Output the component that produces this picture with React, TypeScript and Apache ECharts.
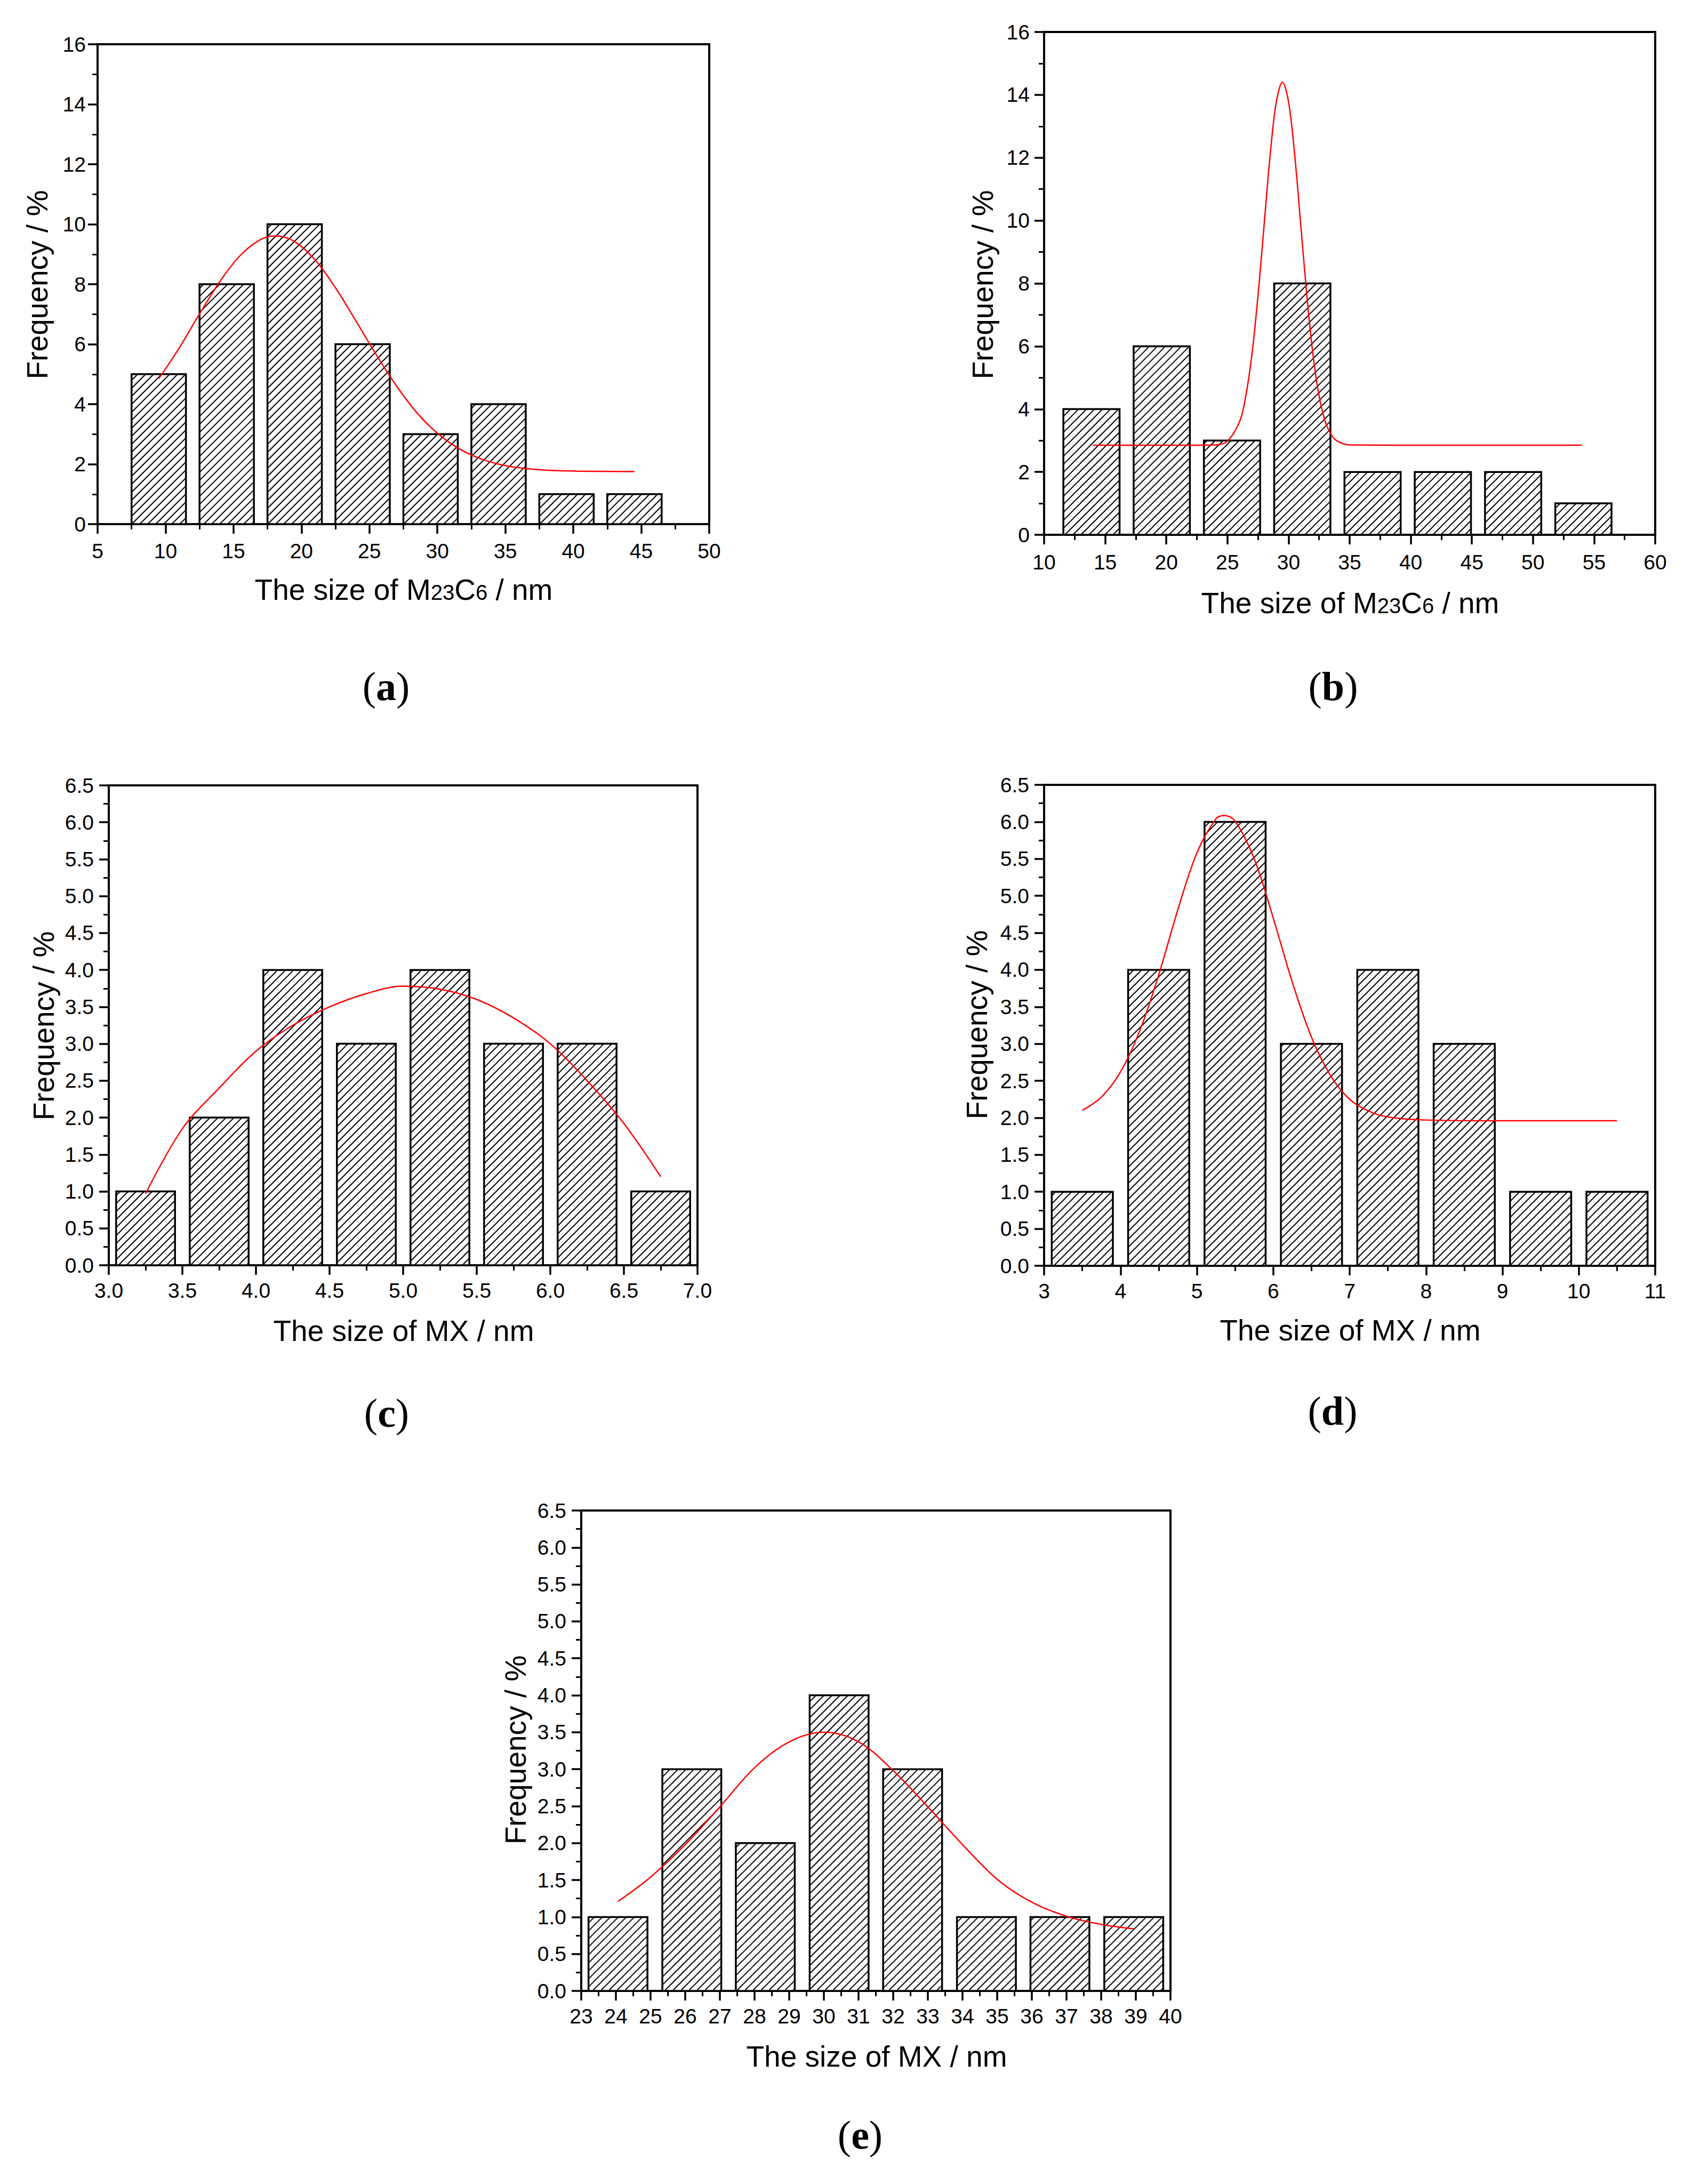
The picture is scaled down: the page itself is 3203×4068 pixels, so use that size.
import React, { useEffect, useRef } from "react";
import * as echarts from "echarts";

// ---------- data ----------
// (a) M23C6
const aBins = [9.5, 14.5, 19.5, 24.5, 29.5, 34.5, 39.5, 44.5];
const aFreq = [5, 8, 10, 6, 3, 4, 1, 1];
const aCurveX = [9.5, 11, 12.5, 14, 15.5, 17, 18.1, 19.5, 21, 22.5, 24, 25.5, 27, 28.5, 30, 31.5, 33, 34.5, 36, 38, 40, 42, 44.5];
const aCurveY = [4.85, 5.87, 7.01, 8.09, 8.96, 9.49, 9.61, 9.42, 8.81, 7.88, 6.78, 5.65, 4.6, 3.71, 3.03, 2.54, 2.21, 2.0, 1.88, 1.8, 1.77, 1.76, 1.75];

// (b) M23C6
const bBins = [13.875, 19.625, 25.375, 31.125, 36.875, 42.625, 48.375, 54.125];
const bFreq = [4, 6, 3, 8, 2, 2, 2, 1];
const bCurveX = [14, 20, 24, 25, 26, 26.5, 27, 27.5, 28, 28.5, 29, 29.5, 30, 30.5, 31, 31.5, 32, 32.5, 33, 33.5, 34, 35, 40, 54];
const bCurveY = [2.85, 2.85, 2.86, 2.98, 3.61, 4.41, 5.73, 7.6, 9.86, 12.1, 13.78, 14.4, 13.78, 12.1, 9.86, 7.6, 5.73, 4.41, 3.61, 3.18, 2.98, 2.86, 2.85, 2.85];

// (c) MX
const cBins = [3.25, 3.75, 4.25, 4.75, 5.25, 5.75, 6.25, 6.75];
const cFreq = [1, 2, 4, 3, 4, 3, 3, 1];
const cCurveX = [3.25, 3.5, 3.75, 4.0, 4.25, 4.5, 4.75, 5.0, 5.25, 5.5, 5.75, 6.0, 6.25, 6.5, 6.75];
const cCurveY = [0.97, 1.85, 2.4, 2.9, 3.25, 3.5, 3.68, 3.78, 3.74, 3.6, 3.35, 3.0, 2.5, 1.92, 1.2];

// (d) MX
const dBins = [3.5, 4.5, 5.5, 6.5, 7.5, 8.5, 9.5, 10.5];
const dFreq = [1, 4, 6, 3, 4, 3, 1, 1];
const dCurveX = [3.5, 3.75, 4.0, 4.25, 4.5, 4.75, 5.0, 5.25, 5.36, 5.5, 5.75, 6.0, 6.25, 6.5, 6.75, 7.0, 7.25, 7.5, 8.0, 9.0, 10.5];
const dCurveY = [2.1, 2.28, 2.62, 3.17, 3.93, 4.81, 5.58, 6.04, 6.085, 6.01, 5.5, 4.7, 3.83, 3.09, 2.57, 2.25, 2.09, 2.01, 1.97, 1.96, 1.96];

// (e) MX
const eBins = [24.06, 26.19, 28.31, 30.44, 32.56, 34.69, 36.81, 38.94];
const eFreq = [1, 3, 2, 4, 3, 1, 1, 1];
const eCurveX = [24.06, 25, 26, 27, 28, 29, 30, 31, 32, 33, 34, 35, 36, 37, 38, 38.94];
const eCurveY = [1.21, 1.54, 1.98, 2.49, 3.02, 3.37, 3.5, 3.37, 2.98, 2.49, 1.98, 1.51, 1.2, 1.01, 0.9, 0.84];

const xTitleM23C6 = "The size of M{s|23}C{s|6} / nm";
const xTitleMX = "The size of MX / nm";
const yTitle = "Frequency / %";
const panelLetters = ["a", "b", "c", "d", "e"];

// ---------- layout / styles ----------
const W = 3203;
const H = 4068;
const SANS = "'Liberation Sans', Arial, sans-serif";
const SERIF = "'Liberation Serif', 'Times New Roman', serif";

type Panel = {
  bins: number[];
  freq: number[];
  binW: number;
  cx: number[];
  cy: number[];
  grid: { left: number; top: number; width: number; height: number };
  x: { min: number; max: number; interval: number; dec: number };
  y: { min: number; max: number; interval: number; dec: number };
  xTitle: string;
  xTitlePos: [number, number];
  yTitlePos: [number, number];
  letterPos: [number, number];
  yLabelMargin: number;
  xLabelMargin: number;
};

const panels: Panel[] = [
  {
    bins: aBins, freq: aFreq, binW: 4, cx: aCurveX, cy: aCurveY,
    grid: { left: 183, top: 83, width: 1147, height: 900 },
    x: { min: 5, max: 50, interval: 5, dec: 0 },
    y: { min: 0, max: 16, interval: 2, dec: 0 },
    xTitle: xTitleM23C6, xTitlePos: [757, 1106], yTitlePos: [70, 534], letterPos: [724, 1287],
    yLabelMargin: 22, xLabelMargin: 31,
  },
  {
    bins: bBins, freq: bFreq, binW: 4.6, cx: bCurveX, cy: bCurveY,
    grid: { left: 1958, top: 60, width: 1146, height: 943 },
    x: { min: 10, max: 60, interval: 5, dec: 0 },
    y: { min: 0, max: 16, interval: 2, dec: 0 },
    xTitle: xTitleM23C6, xTitlePos: [2532, 1131], yTitlePos: [1843, 534], letterPos: [2500, 1287],
    yLabelMargin: 27, xLabelMargin: 32,
  },
  {
    bins: cBins, freq: cFreq, binW: 0.4, cx: cCurveX, cy: cCurveY,
    grid: { left: 204, top: 1473, width: 1104, height: 900 },
    x: { min: 3, max: 7, interval: 0.5, dec: 1 },
    y: { min: 0, max: 6.5, interval: 0.5, dec: 1 },
    xTitle: xTitleMX, xTitlePos: [757, 2496], yTitlePos: [82, 1924], letterPos: [725, 2650],
    yLabelMargin: 28, xLabelMargin: 28,
  },
  {
    bins: dBins, freq: dFreq, binW: 0.8, cx: dCurveX, cy: dCurveY,
    grid: { left: 1958, top: 1472, width: 1146, height: 902 },
    x: { min: 3, max: 11, interval: 1, dec: 0 },
    y: { min: 0, max: 6.5, interval: 0.5, dec: 1 },
    xTitle: xTitleMX, xTitlePos: [2532, 2495], yTitlePos: [1832, 1922], letterPos: [2499, 2646],
    yLabelMargin: 28, xLabelMargin: 28,
  },
  {
    bins: eBins, freq: eFreq, binW: 1.7, cx: eCurveX, cy: eCurveY,
    grid: { left: 1090, top: 2833, width: 1105, height: 901 },
    x: { min: 23, max: 40, interval: 1, dec: 0 },
    y: { min: 0, max: 6.5, interval: 0.5, dec: 1 },
    xTitle: xTitleMX, xTitlePos: [1644, 3857], yTitlePos: [967, 3282], letterPos: [1613, 4004],
    yLabelMargin: 28, xLabelMargin: 28,
  },
];

const HATCH_STEP = 15;

function makeAxis(a: { min: number; max: number; interval: number; dec: number }, margin: number, extra: any) {
  return {
    type: "value",
    min: a.min,
    max: a.max,
    interval: a.interval,
    splitLine: { show: false },
    axisLine: { show: true, onZero: false, lineStyle: { color: "#000", width: 4 } },
    axisTick: { show: true, inside: false, length: 18, lineStyle: { color: "#000", width: 3.5 } },
    minorTick: { show: true, splitNumber: 2, length: 10, lineStyle: { color: "#000", width: 3 } },
    minorSplitLine: { show: false },
    axisLabel: {
      show: true,
      margin,
      color: "#000",
      fontFamily: SANS,
      fontSize: 39,
      formatter: (v: number) => v.toFixed(a.dec),
    },
    ...extra,
  };
}

export default function App() {
  const ref = useRef<HTMLDivElement>(null);

  useEffect(() => {
    document.body.style.margin = "0";
    if (!ref.current) return;
    const chart = echarts.init(ref.current, null, { renderer: "svg", width: W, height: H });

    const grids: any[] = [];
    const xAxes: any[] = [];
    const yAxes: any[] = [];
    const series: any[] = [];
    const graphics: any[] = [];

    panels.forEach((p, i) => {
      grids.push({
        left: p.grid.left,
        top: p.grid.top,
        width: p.grid.width,
        height: p.grid.height,
        show: true,
        borderColor: "#000",
        borderWidth: 4,
        backgroundColor: "transparent",
        containLabel: false,
      });
      xAxes.push(makeAxis(p.x, p.xLabelMargin, { gridIndex: i, position: "bottom" }));
      yAxes.push(makeAxis(p.y, p.yLabelMargin, { gridIndex: i, position: "left" }));

      const half = p.binW / 2;
      series.push({
        type: "custom",
        xAxisIndex: i,
        yAxisIndex: i,
        z: 2,
        encode: { x: 0, y: 1 },
        data: p.bins.map((b, k) => [b, p.freq[k]]),
        renderItem: (_params: any, api: any) => {
          const c = api.value(0);
          const v = api.value(1);
          const tl = api.coord([c - half, v]);
          const br = api.coord([c + half, 0]);
          const x0 = tl[0], y0 = tl[1], x1 = br[0], y1 = br[1];
          const children: any[] = [
            { type: "rect", shape: { x: x0, y: y0, width: x1 - x0, height: y1 - y0 }, style: { fill: "#fff" } },
          ];
          const kStart = Math.ceil((x0 + y0) / HATCH_STEP) * HATCH_STEP;
          for (let k = kStart; k < x1 + y1; k += HATCH_STEP) {
            const xa = Math.max(x0, k - y1);
            const xb = Math.min(x1, k - y0);
            if (xb - xa > 0.5) {
              children.push({
                type: "line",
                shape: { x1: xa, y1: k - xa, x2: xb, y2: k - xb },
                style: { stroke: "#000", lineWidth: 2 },
              });
            }
          }
          children.push({
            type: "rect",
            shape: { x: x0, y: y0, width: x1 - x0, height: y1 - y0 },
            style: { fill: "none", stroke: "#000", lineWidth: 3.5 },
          });
          return { type: "group", children };
        },
      });

      series.push({
        type: "line",
        xAxisIndex: i,
        yAxisIndex: i,
        z: 5,
        data: p.cx.map((x, k) => [x, p.cy[k]]),
        showSymbol: false,
        symbol: "none",
        smooth: 0.35,
        lineStyle: { color: "#ff0000", width: 2.5 },
      });

      graphics.push({
        type: "text",
        x: p.xTitlePos[0],
        y: p.xTitlePos[1],
        style: {
          text: p.xTitle,
          fontFamily: SANS,
          fontSize: 55,
          fill: "#000",
          align: "center",
          verticalAlign: "middle",
          rich: {
            s: { fontFamily: SANS, fontSize: 40, fill: "#000", verticalAlign: "middle", padding: [10, 0, 0, 0] },
          },
        },
      });
      graphics.push({
        type: "text",
        x: p.yTitlePos[0],
        y: p.yTitlePos[1],
        rotation: Math.PI / 2,
        style: {
          text: yTitle,
          fontFamily: SANS,
          fontSize: 55,
          fill: "#000",
          align: "center",
          verticalAlign: "middle",
        },
      });
      graphics.push({
        type: "text",
        x: p.letterPos[0],
        y: p.letterPos[1],
        style: {
          text: "({b|" + panelLetters[i] + "})",
          fontFamily: SERIF,
          fontSize: 76,
          fill: "#000",
          align: "center",
          verticalAlign: "middle",
          rich: {
            b: { fontFamily: SERIF, fontSize: 76, fontWeight: "bold", fill: "#000" },
          },
        },
      });
    });

    chart.setOption({
      animation: false,
      backgroundColor: "#fff",
      grid: grids,
      xAxis: xAxes,
      yAxis: yAxes,
      series,
      graphic: graphics,
    });

    return () => {
      chart.dispose();
    };
  }, []);

  return <div ref={ref} style={{ width: W, height: H, background: "#fff" }} />;
}
